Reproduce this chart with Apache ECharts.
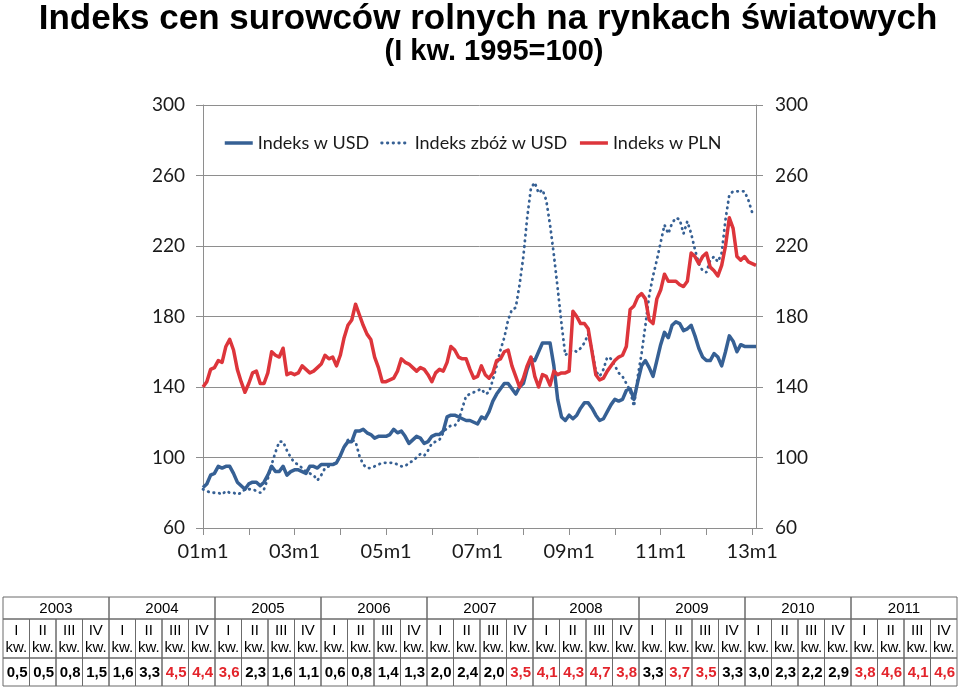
<!DOCTYPE html>
<html>
<head>
<meta charset="utf-8">
<script src="https://cdn.jsdelivr.net/npm/echarts@6/dist/echarts.min.js"></script>
<style>html,body{margin:0;padding:0;background:#fff}#c{width:960px;height:687px}</style>
</head>
<body>
<div id="c"></div>
<script>
// ---- data ----
var titleText = 'Indeks cen surowców rolnych na rynkach światowych';
var subtitleText = '(I kw. 1995=100)';
var seriesNames = ['Indeks w USD', 'Indeks zbóż w USD', 'Indeks w PLN'];
var yTicks = [60, 100, 140, 180, 220, 260, 300];

var indeksUSD = [83,85,90,91,95,94,95,95,91,86,84,82,
  85,86,86,84,86,90,95,92,92,95,90,92,
  93,93,92,91,95,95,94,96,96,96,96,97,
  101,106,109,109,115,115,116,114,113,111,112,112,
  112,113,116,114,115,112,108,110,112,111,108,109,
  112,113,113,115,123,124,124,123,122,121,121,120,
  119,123,122,126,132,136,139,142,142,139,136,140,
  142,150,156,155,160,165,165,165,152,133,123,121,
  124,122,124,128,131,131,128,124,121,122,126,130,
  133,132,133,138,139,133,143,152,155,151,146,155,
  164,171,168,175,177,176,172,173,175,169,162,157,
  155,155,159,157,152,160,169,166,160,164,163,163,
  163,163];
var indeksZboz = [82,81,80,80,80,79,81,80,80,79,80,82,
  82,82,81,80,82,88,96,103,109,109,104,100,
  97,96,94,92,91,90,87,90,94,95,96,97,
  101,106,110,110,109,101,96,94,94,95,96,97,
  97,97,97,96,95,95,97,98,100,102,101,104,
  108,109,110,114,117,118,118,121,128,135,136,137,
  138,139,136,137,144,152,161,168,178,184,185,198,
  214,236,253,256,250,252,246,232,215,196,176,158,
  160,161,160,162,165,170,161,149,146,150,157,156,
  152,148,146,142,138,129,146,159,175,192,203,212,
  222,232,227,233,236,235,227,234,227,218,210,206,
  205,212,214,211,216,235,249,251,251,251,251,246,
  239,238];
var indeksPLN = [140,143,150,151,155,154,163,167,161,150,143,137,
  142,148,149,142,142,148,160,158,157,162,147,148,
  147,148,152,150,148,149,151,153,158,156,157,152,
  158,168,175,178,187,181,175,170,167,157,151,143,
  143,144,145,149,156,154,153,151,149,151,150,147,
  143,148,150,149,154,163,161,157,156,156,150,145,
  146,152,147,145,148,155,156,160,161,152,146,140,
  145,152,157,146,140,147,146,141,149,147,148,148,
  149,183,180,176,176,173,160,147,144,145,149,152,
  155,157,158,163,184,186,191,193,190,178,176,190,
  195,204,200,200,200,198,197,200,216,214,210,214,
  216,208,206,203,209,220,236,230,214,212,214,211,
  210,209];

var tableYears = ['2003','2004','2005','2006','2007','2008','2009','2010','2011'];
var tableQuarters = ['I','II','III','IV'];
var tableValues = [0.5,0.5,0.8,1.5, 1.6,3.3,4.5,4.4, 3.6,2.3,1.6,1.1, 0.6,0.8,1.4,1.3,
  2.0,2.4,2.0,3.5, 4.1,4.3,4.7,3.8, 3.3,3.7,3.5,3.3, 3.0,2.3,2.2,2.9, 3.8,4.6,4.1,4.6];
var highlightFrom = 3.5;

// month categories 01m1 ... 13m2
var categories = [];
for (var i = 0; i < indeksUSD.length; i++) {
  var yy = 1 + Math.floor(i / 12), mm = 1 + (i % 12);
  categories.push((yy < 10 ? '0' : '') + yy + 'm' + mm);
}

// ---- styles ----
var BLUE = '#366094', RED = '#DD353B', GRID = '#8e8e8e';
var F = 'Lato, "Open Sans", sans-serif';

// ---- title + table graphics ----
var g = [];
g.push({type:'text', x:488, y:19, style:{text:titleText, textAlign:'center', textVerticalAlign:'middle',
  font:'bold 35px "Liberation Sans", Arial, sans-serif', fill:'#000'}});
g.push({type:'text', x:494, y:52, style:{text:subtitleText, textAlign:'center', textVerticalAlign:'middle',
  font:'bold 29px "Liberation Sans", Arial, sans-serif', fill:'#000'}});

var tx0 = 3, tx1 = 957, ty0 = 597, ty1 = 619, ty2 = 658, ty3 = 686;
var colW = (tx1 - tx0) / (tableYears.length * 4);
var lineCol = '#6b6b6b';
var tf = '15px "Liberation Sans", Arial, sans-serif';
tableYears.forEach(function (yr, yi) {
  var x = tx0 + yi * 4 * colW;
  g.push({type:'rect', shape:{x:x, y:ty0, width:4*colW, height:ty1-ty0}, style:{fill:'none', stroke:lineCol, lineWidth:1}});
  g.push({type:'text', x:x + 2*colW, y:(ty0+ty1)/2+1, style:{text:yr, textAlign:'center', textVerticalAlign:'middle', font:tf, fill:'#000'}});
  tableQuarters.forEach(function (q, qi) {
    var cx = x + qi * colW;
    var v = tableValues[yi*4 + qi];
    g.push({type:'rect', shape:{x:cx, y:ty1, width:colW, height:ty2-ty1}, style:{fill:'none', stroke:lineCol, lineWidth:1}});
    g.push({type:'rect', shape:{x:cx, y:ty2, width:colW, height:ty3-ty2}, style:{fill:'none', stroke:lineCol, lineWidth:1}});
    g.push({type:'text', x:cx + colW/2, y:ty1 + 12, style:{text:q, textAlign:'center', textVerticalAlign:'middle', font:tf, fill:'#000'}});
    g.push({type:'text', x:cx + colW/2, y:ty1 + 29, style:{text:'kw.', textAlign:'center', textVerticalAlign:'middle', font:tf, fill:'#000'}});
    g.push({type:'text', x:cx + colW - 2, y:(ty2+ty3)/2 + 1, style:{text:v.toFixed(1).replace('.', ','), textAlign:'right', textVerticalAlign:'middle',
      font:'bold 15px "Liberation Sans", Arial, sans-serif', fill: v >= highlightFrom ? '#E3242B' : '#000'}});
  });
});

var chart = echarts.init(document.getElementById('c'), null, {renderer:'canvas'});
var yAxisBase = {
  type:'value', min:yTicks[0], max:yTicks[yTicks.length-1], interval:40,
  axisLine:{show:true, lineStyle:{color:GRID, width:1}},
  axisTick:{show:true, length:7, lineStyle:{color:GRID}},
  axisLabel:{fontFamily:F, fontSize:19, color:'#1a1a1a'}
};
chart.setOption({
  animation:false,
  backgroundColor:'#fff',
  grid:{left:203, top:105, width:553, height:423},
  legend:{
    left:218, top:129, itemWidth:28, itemHeight:14, itemGap:11,
    itemStyle:{opacity:0},
    lineStyle:{width:'inherit'},
    textStyle:{fontFamily:F, fontSize:18, color:'#1a1a1a'},
    data:seriesNames
  },
  xAxis:{
    type:'category', data:categories, boundaryGap:false,
    axisLine:{lineStyle:{color:GRID, width:1}},
    axisTick:{show:true, length:7, interval:function(i){return i % 12 === 0;}, lineStyle:{color:GRID}},
    axisLabel:{interval:function(i){return i % 24 === 0;}, fontFamily:F, fontSize:20, color:'#1a1a1a', margin:14},
    splitLine:{show:false}
  },
  yAxis:[
    Object.assign({}, yAxisBase, {position:'left', splitLine:{show:true, lineStyle:{color:GRID, width:1}},
      axisLabel:Object.assign({}, yAxisBase.axisLabel, {margin:18})}),
    Object.assign({}, yAxisBase, {position:'right', splitLine:{show:false},
      axisLabel:Object.assign({}, yAxisBase.axisLabel, {margin:19})})
  ],
  series:[
    {name:seriesNames[0], type:'line', data:indeksUSD, symbol:'none', smooth:false,
      lineStyle:{color:BLUE, width:3.5, join:'round'}, itemStyle:{color:BLUE}, z:3},
    {name:seriesNames[1], type:'line', data:indeksZboz, symbol:'none',
      lineStyle:{color:BLUE, width:2.8, type:[0.5, 5.2], cap:'round'}, itemStyle:{color:BLUE}, z:2},
    {name:seriesNames[2], type:'line', data:indeksPLN, symbol:'none',
      lineStyle:{color:RED, width:3.5, join:'round'}, itemStyle:{color:RED}, z:4}
  ],
  graphic:g
});
</script>
</body>
</html>
